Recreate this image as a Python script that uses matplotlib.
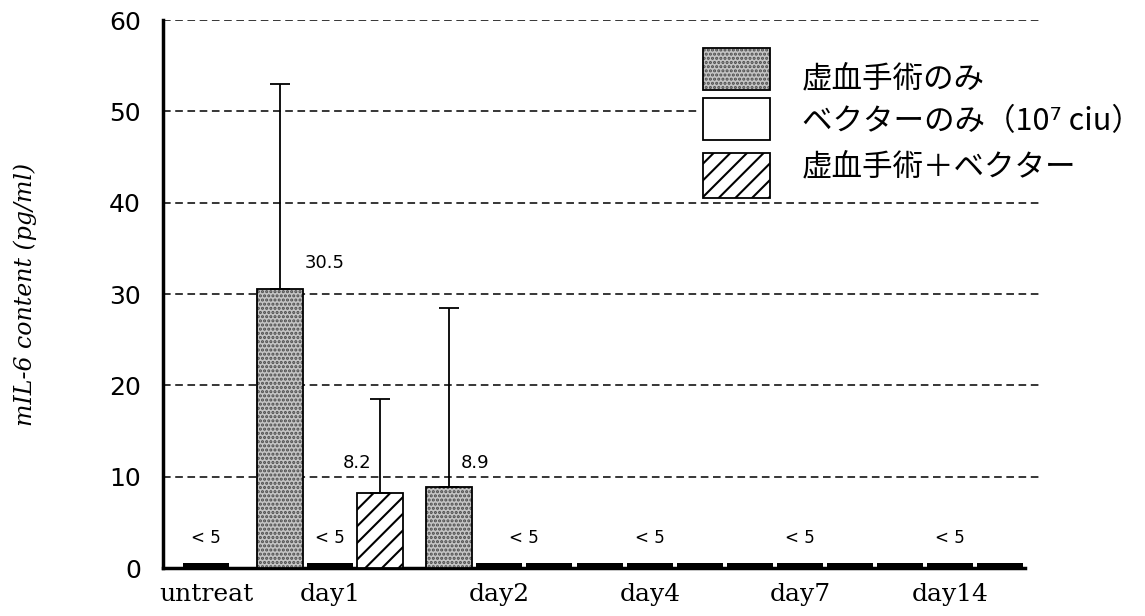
import matplotlib.pyplot as plt
from matplotlib.patches import Rectangle

plt.rcParams['font.family'] = ['Noto Sans CJK JP', 'DejaVu Sans']
plt.rcParams['hatch.linewidth'] = 1.5

# data; None = below detection limit (< 5 pg/ml)
days = ['day1', 'day2', 'day4', 'day7', 'day14']
untreated = None
ischemia_only = [30.5, 8.9, None, None, None]
ischemia_only_sd = [22.5, 19.6, 0, 0, 0]
vector_only = [None, None, None, None, None]
combined = [8.2, None, None, None, None]
combined_sd = [10.3, 0, 0, 0, 0]
series_names = ['虚血手術のみ', 'ベクターのみ（10⁷ ciu）', '虚血手術＋ベクター']
y_ticks = [0, 10, 20, 30, 40, 50, 60]

# layout (1 x unit = 50 px)
untreat_x = 0.86
group_start = [2.34, 5.72, 8.74, 11.74, 14.74]
width = 0.93
low_h = 0.5

fig = plt.figure(figsize=(11.45, 6.16), dpi=100)
ax = fig.add_axes([163 / 1145, 48 / 616, 880 / 1145, 548 / 616])

# fill style per series (outline drawn separately)
fills = [dict(facecolor='#c4c4c4', hatch='....', edgecolor='#4a4a4a', linewidth=0),
         dict(facecolor='white', linewidth=0),
         dict(facecolor='white', hatch='//', edgecolor='black', linewidth=0)]


def draw_bar(x, val, sd, k):
    if val is None:
        ax.bar(x, low_h, width, color='black', linewidth=0, zorder=3)
        return
    ax.bar(x, val, width, zorder=3, **fills[k])
    ax.bar(x, val, width, facecolor='none', edgecolor='black', linewidth=1.3, zorder=3)
    if sd:
        ax.errorbar(x, val, yerr=[[0], [sd]], fmt='none', ecolor='black',
                    elinewidth=1.3, capsize=7, capthick=1.3, zorder=4)


draw_bar(untreat_x, untreated, 0, 1)
ax.text(untreat_x, 2.3, '< 5', ha='center', va='bottom', fontsize=12,
        family='DejaVu Sans')

tick_pos = [untreat_x]
for i, d in enumerate(days):
    xs = [group_start[i] + k for k in range(3)]
    vals = [ischemia_only[i], vector_only[i], combined[i]]
    sds = [ischemia_only_sd[i], 0, combined_sd[i]]
    for k in range(3):
        draw_bar(xs[k], vals[k], sds[k], k)
    low = [x for x, v in zip(xs, vals) if v is None]
    ax.text(sum(low) / len(low), 2.3, '< 5', ha='center', va='bottom',
            fontsize=12, family='DejaVu Sans')
    tick_pos.append(xs[1])

# value labels
ax.text(group_start[0] + 0.9, ischemia_only[0] + 2.9, f'{ischemia_only[0]}',
        ha='center', va='center', fontsize=13, family='DejaVu Sans')
ax.text(group_start[0] + 2 - 0.46, combined[0] + 3.3, f'{combined[0]}',
        ha='center', va='center', fontsize=13, family='DejaVu Sans')
ax.text(group_start[1] + 0.52, ischemia_only[1] + 2.6, f'{ischemia_only[1]}',
        ha='center', va='center', fontsize=13, family='DejaVu Sans')

ax.set_xlim(0, 17.6)
ax.set_ylim(0, 60)
ax.set_yticks(y_ticks)
ax.set_yticklabels([str(t) for t in y_ticks], fontsize=18, family='DejaVu Sans')
ax.set_xticks(tick_pos)
ax.set_xticklabels(['untreat'] + days, fontsize=18, family='DejaVu Serif')
ax.tick_params(axis='both', length=0)
ax.tick_params(axis='y', pad=16)
ax.tick_params(axis='x', pad=11)
ax.hlines(y_ticks[1:], 0, 17.6, colors='black', linestyles=(0, (5, 3)),
          linewidth=1.1, zorder=1)
for s in ['top', 'right']:
    ax.spines[s].set_visible(False)
ax.spines['left'].set_linewidth(2.5)
ax.spines['bottom'].set_linewidth(2.5)
ax.spines['bottom'].set_bounds(0, 17.24)
ax.set_ylabel('mIL-6 content (pg/ml)', family='DejaVu Serif', style='italic',
              fontsize=17, labelpad=52)

# legend drawn by hand
W, H = 1145, 616
fig.add_artist(Rectangle((700 / W, 1 - 200 / H), 445 / W, 160 / H,
                         transform=fig.transFigure, facecolor='white',
                         edgecolor='none', zorder=5))
boxes = [(48, 90), (98, 140), (153, 198)]
text_y = [79, 122, 167]
for k, ((t, b), ty, name) in enumerate(zip(boxes, text_y, series_names)):
    fig.add_artist(Rectangle((703 / W, 1 - b / H), 67 / W, (b - t) / H,
                             transform=fig.transFigure, zorder=6, **fills[k]))
    fig.add_artist(Rectangle((703 / W, 1 - b / H), 67 / W, (b - t) / H,
                             transform=fig.transFigure, facecolor='none',
                             edgecolor='black', linewidth=1.3, zorder=6))
    fig.text(802 / W, 1 - ty / H, name, fontsize=22, va='center', ha='left',
             zorder=6)

fig.savefig('out.png', dpi=100)
